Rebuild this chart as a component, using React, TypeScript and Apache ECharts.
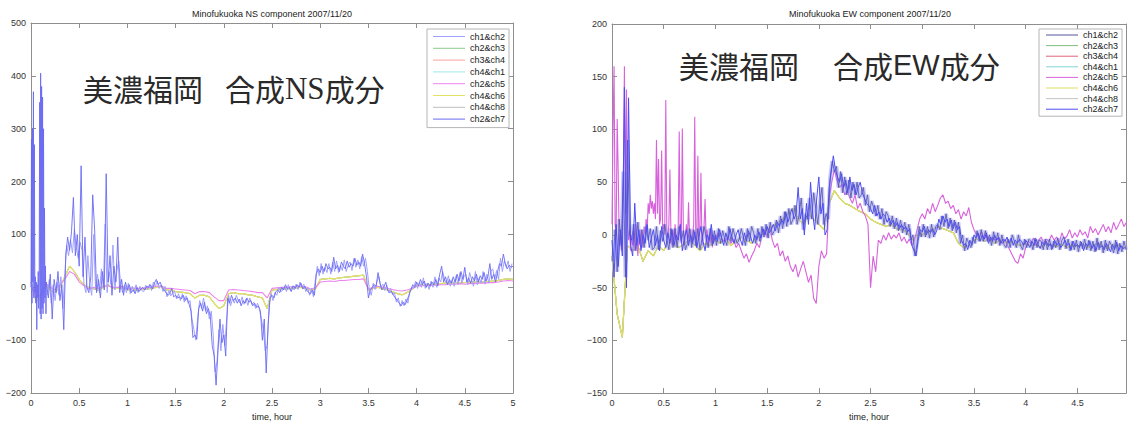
import React, { useEffect, useRef } from "react";
import * as echarts from "echarts";

// ---------- labels ----------
const PAIRS = ["ch1&ch2", "ch2&ch3", "ch3&ch4", "ch4&ch1", "ch2&ch5", "ch4&ch6", "ch4&ch8", "ch2&ch7"];
const nsTitle = "Minofukuoka NS component 2007/11/20";
const ewTitle = "Minofukuoka EW component 2007/11/20";
const xName = "time, hour";

// ---------- NS component (left) ----------
// burst at the very start, step 0.005 h from t = 0
const nsBurstStart = 0;
const nsBurstStep = 0.005;
const nsBurst = [0, 280, -30, 300, 10, 370, -20, 270, -10, 20,
  -30, 10, -80, 5, -20, 30, -40, 20, 350, -50,
  405, -60, 380, -40, 360, -50, 300, -30, 150, -20,
  40, -50];
// main blue trace (ch2&ch7), step 0.02 h from t = 0.16
const nsBlueStart = 0.16;
const nsBlueStep = 0.02;
const nsBlue = [
  10, -20, 25, -60, 15, -10, 30, -25, 5, -80,
  60, 95, 70, 105, 170, 60, 100, 40, 230, 20,
  95, 0, -10, 20, 175, 110, -10, 15, -20, 30,
  -5, 215, 10, 60, -15, 40, 10, 95, -10, 15,
  -15, 10, -5, 5, -10, -5, -12, 0, -8, -3,
  0, -5, 2, 0, 5, -3, 8, 15, 5, 10,
  0, -5, -10, -15, -12, -2, -18, -15, -20, -18,
  -22, -15, -25, -20, -32, -45, -95, -90, -98, -40,
  -30, -45, -28, -50, -40, -55, -110, -130, -185, -120,
  -60, -105, -90, -130, -20, -30, -15, -25, -20, -30,
  -22, -35, -25, -30, -20, -28, -25, -35, -30, -38,
  -35, -45, -100, -60, -162, -70, -20, -15, -20, -8,
  -5, -10, 0, -5, 5, -3, 0, -8, 3, -2,
  5, 0, 8, -3, 2, -5, -10, -12, -5, -15,
  25, 35, 28, 40, 30, 45, 35, 38, 30, 57,
  35, 42, 30, 48, 40, 35, 50, 38, 45, 40,
  55, 42, 48, 40, 63, 45, 20, -20, -5, 0,
  5, 2, 28, 8, -5, 0, 10, -5, -10, -8,
  -15, -20, -25, -30, -35, -28, -33, -25, -15, -5,
  5, 0, 10, 3, 15, 5, 12, 0, 8, 2,
  10, 5, 15, 3, 25, 40, 10, 20, 5, 15,
  8, 20, 10, 25, 12, 30, 15, 38, 10, 18,
  8, 20, 12, 25, 10, 22, 15, 28, 12, 20,
  45, 15, 25, 10, 30, 45, 40, 63, 45, 35,
  42, 38, 40];
// second blue trace (ch1&ch2), step 0.02 h from t = 0.17
const nsBlue2Start = 0.17;
const nsBlue2Step = 0.02;
const nsBlue2 = [
  -15, 15, -30, 5, -25, 10, -15, 20, -40, 20,
  80, 60, 90, 65, 110, 75, 55, 85, 70, 5,
  -10, 60, 5, -15, 100, -5, 25, -10, 35, 0,
  120, -10, 30, 5, 80, -5, 30, 50, 5, -10,
  5, -10, 8, -12, 2, -8, 5, -10, 2, -6,
  -8, 4, -4, 6, -6, 10, 2, 12, -2, 4,
  -8, 2, -18, -6, -16, -10, -8, -22, -12, -25,
  -12, -28, -16, -30, -25, -60, -80, -100, -55, -25,
  -40, -20, -45, -35, -60, -45, -90, -160, -140, -80,
  -120, -70, -110, -60, -15, -35, -22, -30, -15, -25,
  -30, -18, -32, -22, -34, -20, -32, -28, -40, -30,
  -42, -60, -80, -120, -110, -35, -12, -25, -10, -15,
  0, -8, -6, 2, -8, 5, -6, 2, -5, 6,
  -4, 10, 0, 6, -8, 0, -15, -2, -18, 15,
  40, 22, 45, 25, 38, 28, 45, 25, 48, 30,
  50, 28, 42, 32, 52, 30, 42, 48, 32, 55,
  38, 52, 35, 58, 40, 55, 30, -5, -15, 8,
  -4, 12, 20, 0, 6, -6, 4, -10, -2, -14,
  -10, -28, -20, -36, -25, -35, -22, -30, -8, 0,
  -2, 12, -2, 10, 0, 18, -2, 8, -4, 12,
  0, 20, 0, 18, 10, 30, 15, 8, 22, 2,
  15, 2, 22, 5, 28, 8, 20, 25, 5, 28,
  15, 2, 30, 5, 18, 8, 30, 6, 25, 8,
  30, 35, 15, 32, 15, 55, 30, 50, 38, 50,
  30, 45];
// smoother traces, step 0.05 h from t = 0
const nsSmoothStep = 0.05;
const nsCommon = [
  10, -25, -20, 5, -5, -10, 0, 20, 40, 30,
  15, 5, 0, -3, -5, 0, 5, -2, -2, 0,
  -5, -3, -5, -4, -3, -2, 0, 2, -5, -4,
  -8, -9, -10, -12, -20, -15, -15, -18, -30, -40,
  -35, -12, -10, -12, -12, -14, -15, -18, -20, -40,
  -5, -4, -3, -3, -2, -1, 0, -2, -5, -3,
  15, 16, 17, 16, 18, 19, 20, 21, 22, 23,
  -5, -2, 0, -3, -5, -8, -12, -14, -10, -4,
  3, 4, 5, 5, 6, 7, 8, 8, 8, 9,
  9, 10, 10, 10, 10, 11, 12, 13, 15, 16,
  15];
const nsMagenta = [
  5, -20, -15, 8, 0, -5, 5, 15, 30, 25,
  10, 3, -3, 0, -2, 2, 3, 0, 0, 2,
  -3, -1, -2, -2, 0, 0, 2, 3, -2, -2,
  -3, -4, -5, -6, -12, -8, -8, -10, -18, -25,
  -25, -5, -4, -5, -6, -7, -8, -10, -10, -20,
  -2, -1, 0, 0, 1, 2, 2, 1, -3, -1,
  10, 11, 12, 11, 13, 13, 14, 15, 15, 16,
  -3, 0, 2, 0, -2, -4, -6, -7, -5, -2,
  2, 3, 3, 4, 4, 5, 5, 6, 6, 7,
  6, 7, 7, 8, 8, 9, 9, 10, 12, 13,
  12];

// ---------- EW component (right) ----------
// main blue trace (ch2&ch7), step 0.02 h from t = 0
const ewBlueStep = 0.02;
const ewBlue = [
  -5, -40, 10, -30, 5, -20, 140, -50, 130, -10,
  -20, 30, -10, 5, -15, 0, -8, 10, -12, -3,
  5, -10, 0, -15, 8, -5, -12, 2, -8, 5,
  -10, 0, -5, 10, -15, -3, 5, -10, 0, -8,
  3, -12, -2, 8, -6, -15, 0, -5, 10, -8,
  0, -6, 5, -3, -10, 2, -5, 6, -2, -8,
  0, 5, -4, -10, 2, -6, 4, -2, -8, 0,
  -5, 3, -3, 6, 0, 8, 2, 5, 10, 4,
  12, 8, 15, 10, 22, 12, 18, 25, 15, 20,
  45, 15, 25, 0, 30, 10, 50, 20, 5, 35,
  55, 20, 30, 0, 5, 45, 60, 75, 62, 55,
  50, 58, 45, 52, 40, 55, 42, 48, 38, 45,
  50, 40, 35, 30, 28, 25, 20, 28, 18, 22,
  15, 20, 18, 12, 16, 10, 14, 8, 12, 6,
  10, 5, 8, 3, 6, -10, -15, -20, -5, 5,
  3, 8, 0, 5, 2, 6, 0, 4, 15, 10,
  18, 12, 15, 8, 14, 6, 12, 5, 8, -5,
  -10, -8, -14, -5, -10, 0, -3, 2, -6, 0,
  -4, 2, -8, -2, -6, 0, -5, -2, -8, -4,
  -6, -2, -8, -3, -10, -5, -8, -4, -6, -10,
  -5, -8, -12, -6, -10, -4, -9, -13, -7, -10,
  -6, -11, -8, -13, -5, -10, -7, -12, -9, -5,
  -10, -8, -14, -6, -11, -9, -12, -7, -15, -8,
  -11, -6, -13, -9, -15, -7, -12, -10, -14, -8,
  -12, -16, -9, -14, -7, -15, -10, -13, -12];
// second trace (ch1&ch2), step 0.02 h from t = 0.01
const ewBlue2Start = 0.01;
const ewBlue2Step = 0.02;
const ewBlue2 = [
  -25, 5, -35, 15, -10, 60, -40, 90, 0, -5,
  10, -15, 12, -8, 5, -12, 8, -5, 6, -14,
  -12, 8, -14, 4, -6, 10, -4, -14, 6, -12,
  6, -12, 8, -6, 4, -14, -8, 6, -12, 5,
  -10, 6, -14, -4, 8, -2, -12, 6, -10, 4,
  -10, 6, -8, 4, -4, -10, 8, -6, 6, -2,
  -8, -4, 6, -2, -10, 6, -6, 8, 2, -8,
  6, -6, 8, -2, 10, -3, 12, 0, 4, 14,
  2, 18, 6, 22, 8, 25, 10, 15, 28, 10,
  20, 35, 5, 20, 15, 35, 15, 40, 25, 10,
  30, 45, 10, 20, 15, 55, 70, 60, 65, 45,
  60, 40, 55, 38, 52, 35, 50, 38, 50, 35,
  38, 45, 28, 38, 22, 32, 26, 18, 28, 15,
  25, 10, 22, 18, 8, 18, 6, 16, 4, 14,
  2, 12, 0, 10, -5, 0, -20, -8, 8, -2,
  10, -2, 8, -3, 10, -2, 8, 10, 5, 18,
  8, 20, 6, 16, 4, 14, 2, 12, -8, 0,
  -15, -3, -8, -12, -2, -8, 4, -6, 5, -6,
  4, -6, 0, -10, 3, -8, 2, -10, 0, -9,
  -12, -4, -12, 0, -6, -12, 0, -10, -14, -4,
  -12, -4, -6, -14, -3, -12, -5, -6, -14, -4,
  -14, -4, -14, -6, -12, -3, -14, -5, -2, -13,
  -4, -15, -6, -14, -5, -16, -6, -13, -4, -14,
  -5, -15, -6, -16, -3, -14, -6, -17, -5, -15,
  -6, -10, -17, -5, -18, -8, -16, -6, -14];
// magenta (ch2&ch5): step 0.01 h up to 0.99, then step 0.025 h from 1.0
const ewMagentaEarlyStep = 0.01;
const ewMagentaEarly = [
  10, 100, 160, 10, 0, 110, 60, -10, 0, -15,
  10, 50, 160, 20, 138, 10, -5, 5, -15, 0,
  -10, 5, -15, 10, -5, -20, 0, -10, 5, -12,
  -5, 8, 0, 15, 5, 30, 20, 38, 25, 32,
  20, 30, 15, 90, 20, 72, 10, 15, 80, 5,
  10, 0, 128, 5, -5, 10, 62, 0, -10, 5,
  -5, 10, -10, 0, 5, 98, 0, -8, 101, 5,
  -10, 0, 10, -5, 31, -3, 5, -8, 2, 10,
  112, 0, -12, 75, -5, 5, 59, -10, 0, 8,
  34, -5, 5, -10, 0, -8, 5, -12, 0, -5];
const ewMagentaLateStart = 1.0;
const ewMagentaLateStep = 0.025;
const ewMagentaLate = [
  -3, 2, 0, -6, -5, -2, -8, -4, -12, -8,
  -15, -22, -18, -26, -20, -15, -8, -12, 0, 5,
  -2, 8, -5, -12, -8, -20, -15, -25, -20, -30,
  -35, -28, -40, -32, -25, -35, -45, -38, -60, -65,
  -30, -15, -22, -18, 35, 50, 62, 52, 45, 48,
  38, 42, 35, 30, 38, 25, 30, 22, 18, 10,
  -50, -20, -35, -5, -8, 0, -5, 2, -4, 0,
  -3, 2, -6, -2, -8, -4, -10, -5, 5, 15,
  20, 15, 25, 20, 30, 22, 28, 35, 38, 30,
  32, 25, 28, 20, 24, 15, 22, 18, 26, 12,
  5, 0, -2, 3, -4, 0, -6, -2, -5, -3,
  -6, -8, -4, -10, -15, -20, -25, -27, -18, -22,
  -12, -6, -8, -3, -10, -5, -2, -8, -4, -6,
  0, -5, -2, -7, 2, -4, -1, 5, -3, 2,
  -2, 5, 0, 3, -3, 8, 2, 6, 0, 5,
  10, 3, 8, 2, 12, 5, 10, 15, 8, 12];
// smoother common trace (ch4&ch6 and the others), step 0.05 h from t = 0
const ewCommonStep = 0.05;
const ewCommon = [
  -20, -75, -97, -10, -15, -10, -25, -15, -20, -10,
  -15, -5, -10, -12, -8, -5, -10, -15, -8, -10,
  -5, -8, -3, -10, -6, -2, -5, -8, -3, 0,
  5, 8, 12, 15, 20, 25, 15, 10, 20, 15,
  10, 5, 30, 42, 35, 30, 28, 25, 22, 20,
  15, 12, 10, 8, 10, 6, 5, 3, -5, 0,
  0, 3, 5, 8, 6, 4, 2, -8, -12, -10,
  -5, -3, -6, -4, -8, -5, -7, -6, -8, -10,
  -8, -10, -9, -12, -8, -10, -11, -9, -12, -10,
  -11, -9, -12, -10, -8, -11, -13, -9, -10, -12];

// ---------- helpers ----------
const toPairs = (start: number, step: number, vals: number[]) =>
  vals.map((v, i) => [Math.round((start + i * step) * 10000) / 10000, v]);

const FONT = "'Liberation Sans', Arial, sans-serif";
const CJK = "'Noto Sans CJK JP', sans-serif";
const AX = "#8e8e8e";

const fmtNum = (v: number) => {
  const r = Math.round(v * 100) / 100;
  return (r < 0 ? "\u2212" : "") + String(Math.abs(r));
};
const fmtX = (v: number) => {
  const r = Math.round(v * 100) / 100;
  if (Math.abs(r * 2 - Math.round(r * 2)) > 1e-6) return "";
  return fmtNum(r);
};

function xAxes(gi: number, max: number) {
  const base = {
    type: "value", gridIndex: gi, min: 0, max, interval: 0.5,
    splitLine: { show: false },
    axisLine: { show: true, onZero: false, lineStyle: { color: AX, width: 1 } },
    axisTick: { show: true, inside: true, length: 5, lineStyle: { color: AX } },
  };
  return [
    {
      ...base, position: "bottom",
      axisLabel: { show: true, fontFamily: FONT, fontSize: 9, color: "#333", margin: 5, formatter: fmtX, showMaxLabel: true, showMinLabel: true },
      name: xName, nameLocation: "middle", nameGap: 16,
      nameTextStyle: { fontFamily: FONT, fontSize: 9, color: "#222" },
    },
    { ...base, position: "top", axisLabel: { show: false } },
  ];
}
function yAxes(gi: number, min: number, max: number, interval: number) {
  const base = {
    type: "value", gridIndex: gi, min, max, interval,
    splitLine: { show: false },
    axisLine: { show: true, onZero: false, lineStyle: { color: AX, width: 1 } },
    axisTick: { show: true, inside: true, length: 5, lineStyle: { color: AX } },
  };
  return [
    { ...base, position: "left", axisLabel: { show: true, fontFamily: FONT, fontSize: 9, color: "#333", margin: 5, formatter: fmtNum } },
    { ...base, position: "right", axisLabel: { show: false } },
  ];
}
function line(name: string, color: string, width: number, data: number[][], xi: number, yi: number, opacity = 1) {
  return {
    type: "line", name, data, xAxisIndex: xi, yAxisIndex: yi,
    showSymbol: false, symbol: "none", silent: true, animation: false,
    color, itemStyle: { color },
    lineStyle: { color, width, opacity },
    emphasis: { disabled: true }, clip: true,
  };
}

export default function App() {
  const ref = useRef<HTMLDivElement>(null);
  useEffect(() => {
    if (!ref.current) return;
    const chart = echarts.init(ref.current, undefined, { renderer: "svg" });

    const nsBlueData = [...toPairs(nsBurstStart, nsBurstStep, nsBurst), ...toPairs(nsBlueStart, nsBlueStep, nsBlue)];
    const nsBlue2Data = toPairs(nsBlue2Start, nsBlue2Step, nsBlue2);
    const nsCommonData = toPairs(0, nsSmoothStep, nsCommon);
    const nsMagentaData = toPairs(0, nsSmoothStep, nsMagenta);
    const ewBlueData = toPairs(0, ewBlueStep, ewBlue);
    const ewBlue2Data = toPairs(ewBlue2Start, ewBlue2Step, ewBlue2);
    const ewMagentaData = [...toPairs(0, ewMagentaEarlyStep, ewMagentaEarly), ...toPairs(ewMagentaLateStart, ewMagentaLateStep, ewMagentaLate)];
    const ewCommonData = toPairs(0, ewCommonStep, ewCommon);

    const L = (n: string) => "L:" + n;
    const R = (n: string) => "R:" + n;

    const series = [
      // left
      line(L("ch2&ch3"), "#8fc98f", 1, nsCommonData, 0, 0),
      line(L("ch3&ch4"), "#ff9f9f", 1, nsCommonData, 0, 0),
      line(L("ch4&ch1"), "#9fe8e8", 1, nsCommonData, 0, 0),
      line(L("ch4&ch8"), "#bdbdbd", 1, nsCommonData, 0, 0),
      line(L("ch4&ch6"), "#e2e266", 1.3, nsCommonData, 0, 0),
      line(L("ch2&ch5"), "#ee84ee", 1.1, nsMagentaData, 0, 0),
      line(L("ch1&ch2"), "#a0a0ff", 1, nsBlue2Data, 0, 0),
      line(L("ch2&ch7"), "#6a6af3", 0.9, nsBlueData, 0, 0),
      // right
      line(R("ch2&ch3"), "#7fbf7f", 1, ewCommonData, 2, 2),
      line(R("ch3&ch4"), "#e0607a", 1, ewCommonData, 2, 2),
      line(R("ch4&ch1"), "#7fd4d4", 1, ewCommonData, 2, 2),
      line(R("ch4&ch8"), "#c4c4c4", 1, ewCommonData, 2, 2),
      line(R("ch4&ch6"), "#dede62", 1.4, ewCommonData, 2, 2),
      line(R("ch2&ch5"), "#d862dc", 1.1, ewMagentaData, 2, 2),
      line(R("halo"), "#8a8aff", 4, ewBlue2Data, 2, 2, 0.45),
      line(R("ch1&ch2"), "#55559a", 0.8, ewBlue2Data, 2, 2),
      line(R("ch2&ch7"), "#4c4cf2", 1, ewBlueData, 2, 2),
    ];

    const legendBase = {
      orient: "vertical", icon: "rect", itemWidth: 32, itemHeight: 1,
      selectedMode: false, backgroundColor: "#fff",
      borderColor: "#b5b5b5", borderWidth: 1, borderRadius: 0,
      formatter: (n: string) => n.slice(2),
    };

    const option = {
      animation: false,
      backgroundColor: "#fff",
      grid: [
        { left: 31, top: 23, width: 482, height: 375, containLabel: false },
        { left: 612, top: 24, width: 517, height: 374, containLabel: false },
      ],
      xAxis: [...xAxes(0, 5), ...xAxes(1, 4.97)],
      yAxis: [...yAxes(0, -200, 500, 100), ...yAxes(1, -150, 200, 50)],
      legend: [
        {
          ...legendBase, left: 427, top: 29, itemGap: 0.8, padding: [2, 4, 3, 6],
          data: PAIRS.map(L),
          textStyle: { fontFamily: FONT, fontSize: 9, color: "#222", lineHeight: 11 },
        },
        {
          ...legendBase, left: 1039, top: 29, itemGap: 0.6, padding: [1, 4, 2, 7],
          data: PAIRS.map(R),
          textStyle: { fontFamily: FONT, fontSize: 9, color: "#222", lineHeight: 10 },
        },
      ],
      graphic: [
        { type: "text", x: 272, y: 14, silent: true, style: { text: nsTitle, align: "center", verticalAlign: "middle", font: `9px ${FONT}`, fill: "#222" } },
        { type: "text", x: 870, y: 14, silent: true, style: { text: ewTitle, align: "center", verticalAlign: "middle", font: `9px ${FONT}`, fill: "#222" } },
        { type: "text", x: 83, y: 88, silent: true, style: { text: "美濃福岡", verticalAlign: "middle", font: `30px ${CJK}`, fill: "#2a2a2a" } },
        {
          type: "text", x: 225, y: 88, silent: true,
          style: {
            text: "{a|合成}{b|NS}{a|成分}", verticalAlign: "middle",
            rich: {
              a: { fontFamily: CJK, fontSize: 30, fill: "#2a2a2a" },
              b: { fontFamily: "'Liberation Serif', serif", fontSize: 31, fill: "#2a2a2a" },
            },
          },
        },
        { type: "text", x: 679, y: 65, silent: true, style: { text: "美濃福岡", verticalAlign: "middle", font: `30px ${CJK}`, fill: "#2a2a2a" } },
        {
          type: "text", x: 833, y: 65, silent: true,
          style: {
            text: "{a|合成}{b|EW}{a|成分}", verticalAlign: "middle",
            rich: {
              a: { fontFamily: CJK, fontSize: 30, fill: "#2a2a2a" },
              b: { fontFamily: FONT, fontSize: 29, fill: "#2a2a2a" },
            },
          },
        },
      ],
      series,
    };
    chart.setOption(option as any);
    return () => chart.dispose();
  }, []);
  return (
    <div
      ref={ref}
      style={{ position: "fixed", left: 0, top: 0, width: 1129, height: 426, background: "#fff" }}
    />
  );
}
